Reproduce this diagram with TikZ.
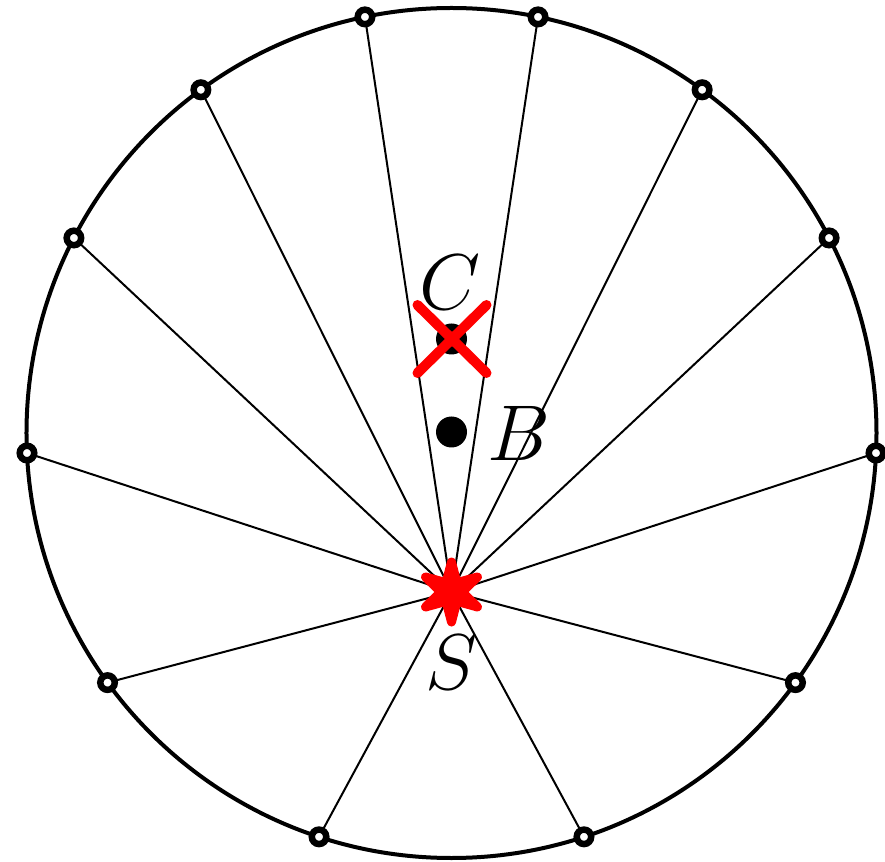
\documentclass[tikz,border=0pt]{standalone}
\usetikzlibrary{shapes.geometric}
\begin{document}
\begin{tikzpicture}[x=1pt,y=1pt,
  spoke/.style={line width=2pt,black},
  rim/.style={line width=4pt,black},
  ptmark/.style={circle,draw=black,fill=white,line width=6.5pt,inner sep=0pt,minimum size=14.5pt},
  dotmark/.style={circle,fill=black,inner sep=0pt,minimum size=31pt},
  starmark/.style={star,star points=6,star point ratio=2.8,shape border rotate=0,fill=red,draw=red,line width=9pt,line join=round,minimum size=60pt,inner sep=0pt},
  lbl/.style={font=\Huge,scale=3.18,inner sep=0pt,anchor=base}]
\useasboundingbox (-451.5,-428) rectangle (433.5,433);
\coordinate (O) at (0,0);
\coordinate (S) at (0,-159);
\foreach \a [count=\i] in {101.75,78.25,53.86,27.32,-2.7,-35.97,-71.84,-108.16,-144.03,182.7,152.68,126.14}
  \coordinate (P\i) at (\a:425);
\foreach \i in {1,...,12}
  \draw[spoke] (S) -- (P\i);
\draw[rim] (O) circle (425);
\foreach \i in {1,...,12}
  \node[ptmark] (M\i) at (P\i) {};
\node[dotmark] (Bdot) at (0,1) {};
\node[dotmark] (Cdot) at (0,94) {};
\draw[red,line width=10pt,line cap=round] (-34,128) -- (35,60);
\draw[red,line width=10pt,line cap=round] (-34,60) -- (35,128);
\node[starmark] (Sstar) at (S) {};
\node[lbl] (Clbl) at (-1,123) {$C$};
\node[lbl] (Blbl) at (67,-28) {$B$};
\node[lbl] (Slbl) at (0,-256) {$S$};
\end{tikzpicture}
\end{document}
